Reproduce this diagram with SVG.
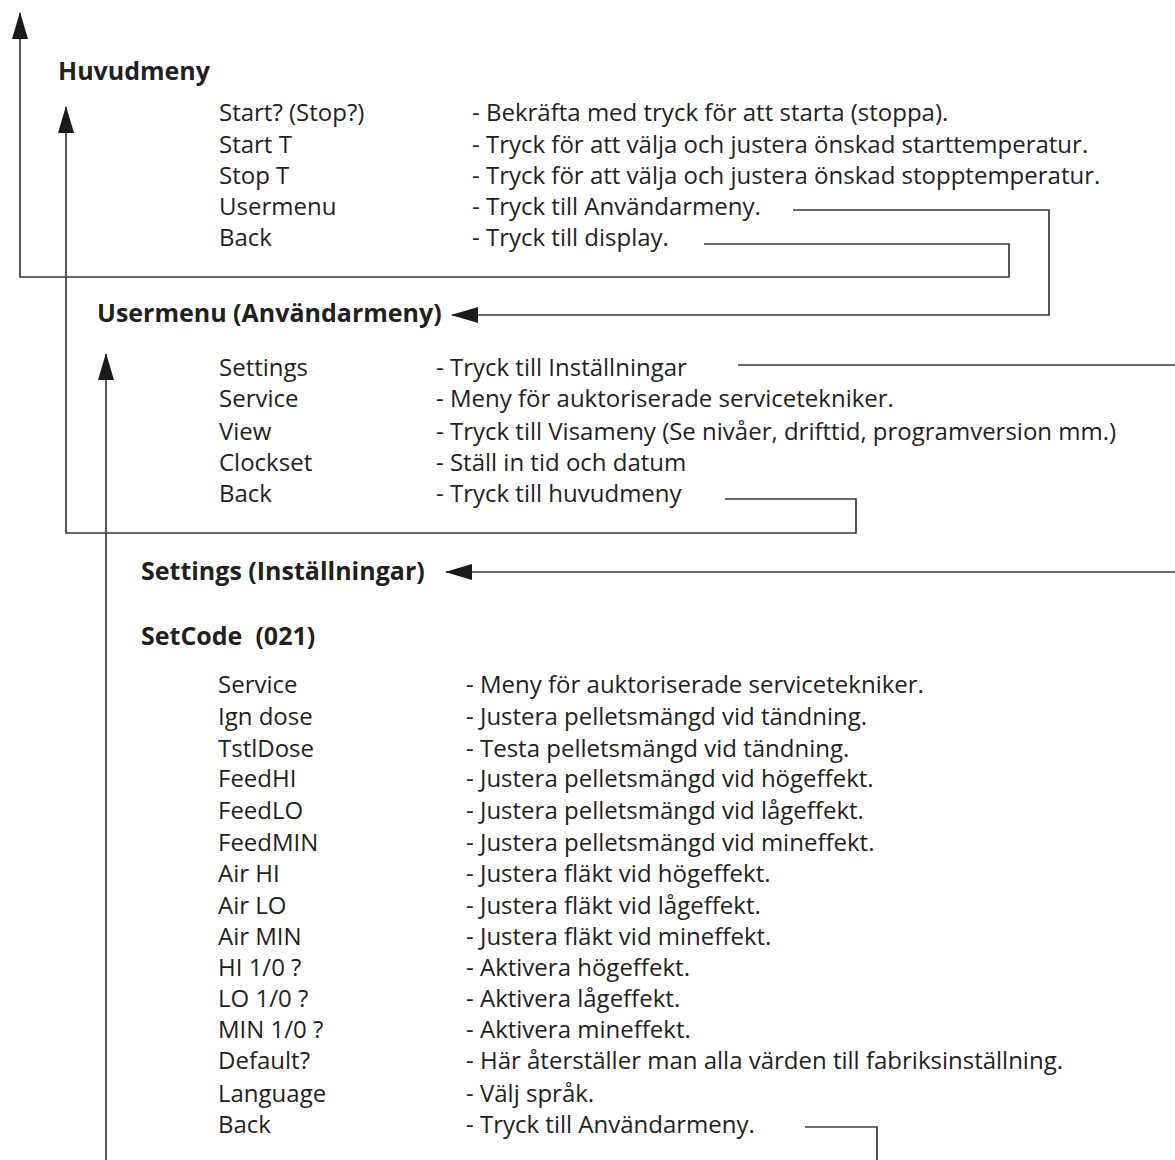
<svg xmlns="http://www.w3.org/2000/svg" width="1175" height="1160" viewBox="0 0 1175 1160">
<defs>
<style>
text{font-family:"Open Sans","Noto Sans","DejaVu Sans",sans-serif;fill:#231f20}
.h{font-weight:bold;font-size:25px}
.t{font-size:24px}
.c{fill:none;stroke:#3a3a3a;stroke-width:1.7}
</style>
<marker id="ah" viewBox="0 0 27 16" refX="26" refY="8" markerWidth="27" markerHeight="16" markerUnits="userSpaceOnUse" orient="auto">
<path d="M0,0 L27,8 L0,16 Z" fill="#1a1a1a"/>
</marker>
</defs>
<rect width="1175" height="1160" fill="#fff"/>

<g id="connectors">
<path class="c" d="M704,244 H1009 V277 H20 V13" marker-end="url(#ah)"/>
<path class="c" d="M793,210 H1049 V315 H452" marker-end="url(#ah)"/>
<path class="c" d="M725,499 H856 V533 H66 V107" marker-end="url(#ah)"/>
<path class="c" d="M738,365 H1185 V572 H446" marker-end="url(#ah)"/>
<path class="c" d="M805,1127 H877 V1170 H106 V354" marker-end="url(#ah)"/>
</g>

<g id="huvudmeny">
<text class="h" x="58" y="80">Huvudmeny</text>
<g id="hm-start"><text class="t" x="219" y="121">Start? (Stop?)</text><text class="t" x="472" y="121">- Bekräfta med tryck för att starta (stoppa).</text></g>
<g id="hm-startt"><text class="t" x="219" y="153">Start T</text><text class="t" x="472" y="153">- Tryck för att välja och justera önskad starttemperatur.</text></g>
<g id="hm-stopt"><text class="t" x="219" y="184">Stop T</text><text class="t" x="472" y="184">- Tryck för att välja och justera önskad stopptemperatur.</text></g>
<g id="hm-usermenu"><text class="t" x="219" y="215">Usermenu</text><text class="t" x="472" y="215">- Tryck till Användarmeny.</text></g>
<g id="hm-back"><text class="t" x="219" y="246">Back</text><text class="t" x="472" y="246">- Tryck till display.</text></g>
</g>

<g id="usermenu">
<text class="h" x="97" y="322">Usermenu (Användarmeny)</text>
<g id="um-settings"><text class="t" x="219" y="376">Settings</text><text class="t" x="436" y="376">- Tryck till Inställningar</text></g>
<g id="um-service"><text class="t" x="219" y="407">Service</text><text class="t" x="436" y="407">- Meny för auktoriserade servicetekniker.</text></g>
<g id="um-view"><text class="t" x="219" y="440">View</text><text class="t" x="436" y="440">- Tryck till Visameny (Se nivåer, drifttid, programversion mm.)</text></g>
<g id="um-clockset"><text class="t" x="219" y="471">Clockset</text><text class="t" x="436" y="471">- Ställ in tid och datum</text></g>
<g id="um-back"><text class="t" x="219" y="502">Back</text><text class="t" x="436" y="502">- Tryck till huvudmeny</text></g>
</g>

<g id="settings">
<text class="h" x="141" y="580">Settings (Inställningar)</text>
<text class="h" x="141" y="645" xml:space="preserve">SetCode  (021)</text>
<g id="s-service"><text class="t" x="218" y="693">Service</text><text class="t" x="466" y="693">- Meny för auktoriserade servicetekniker.</text></g>
<g id="s-igndose"><text class="t" x="218" y="725">Ign dose</text><text class="t" x="466" y="725">- Justera pelletsmängd vid tändning.</text></g>
<g id="s-tstldose"><text class="t" x="218" y="757">TstlDose</text><text class="t" x="466" y="757">- Testa pelletsmängd vid tändning.</text></g>
<g id="s-feedhi"><text class="t" x="218" y="787">FeedHI</text><text class="t" x="466" y="787">- Justera pelletsmängd vid högeffekt.</text></g>
<g id="s-feedlo"><text class="t" x="218" y="819">FeedLO</text><text class="t" x="466" y="819">- Justera pelletsmängd vid lågeffekt.</text></g>
<g id="s-feedmin"><text class="t" x="218" y="851">FeedMIN</text><text class="t" x="466" y="851">- Justera pelletsmängd vid mineffekt.</text></g>
<g id="s-airhi"><text class="t" x="218" y="882">Air HI</text><text class="t" x="466" y="882">- Justera fläkt vid högeffekt.</text></g>
<g id="s-airlo"><text class="t" x="218" y="914">Air LO</text><text class="t" x="466" y="914">- Justera fläkt vid lågeffekt.</text></g>
<g id="s-airmin"><text class="t" x="218" y="945">Air MIN</text><text class="t" x="466" y="945">- Justera fläkt vid mineffekt.</text></g>
<g id="s-hi10"><text class="t" x="218" y="976">HI 1/0 ?</text><text class="t" x="466" y="976">- Aktivera högeffekt.</text></g>
<g id="s-lo10"><text class="t" x="218" y="1007">LO 1/0 ?</text><text class="t" x="466" y="1007">- Aktivera lågeffekt.</text></g>
<g id="s-min10"><text class="t" x="218" y="1038">MIN 1/0 ?</text><text class="t" x="466" y="1038">- Aktivera mineffekt.</text></g>
<g id="s-default"><text class="t" x="218" y="1069">Default?</text><text class="t" x="466" y="1069">- Här återställer man alla värden till fabriksinställning.</text></g>
<g id="s-language"><text class="t" x="218" y="1102">Language</text><text class="t" x="466" y="1102">- Välj språk.</text></g>
<g id="s-back"><text class="t" x="218" y="1133">Back</text><text class="t" x="466" y="1133">- Tryck till Användarmeny.</text></g>
</g>
</svg>
